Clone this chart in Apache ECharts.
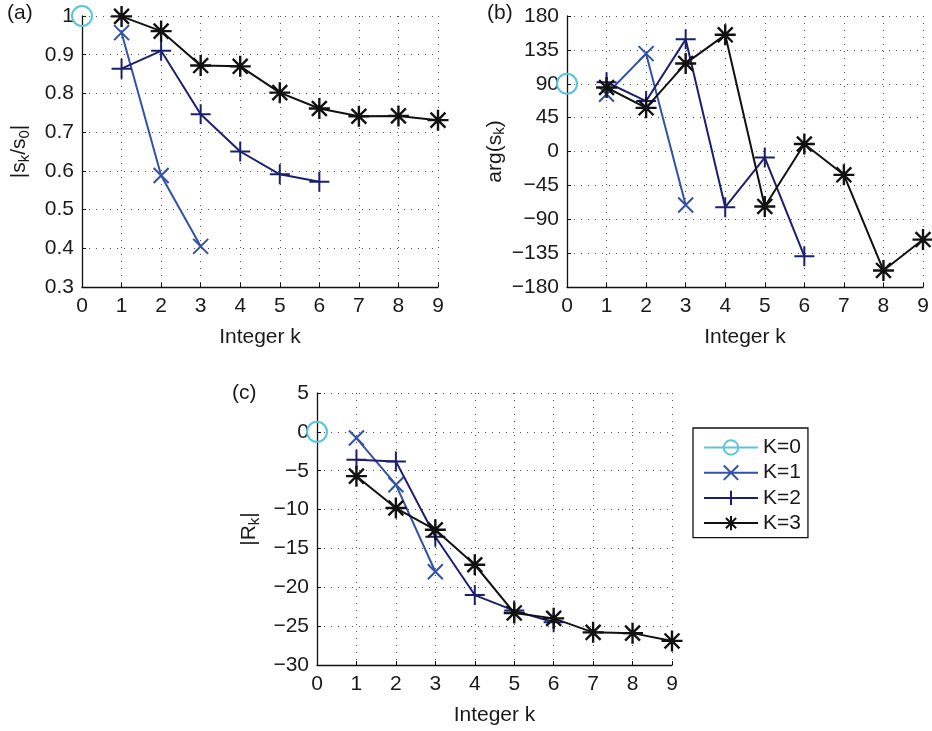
<!DOCTYPE html>
<html>
<head>
<meta charset="utf-8">
<script src="https://cdn.jsdelivr.net/npm/echarts@6/dist/echarts.min.js"></script>
<style>
  html, body { margin: 0; padding: 0; background: #fff; }
  #chart { width: 932px; height: 731px; }
</style>
</head>
<body>
<div id="chart"></div>
<script>
// Order index k used on every panel
const kValues = [0, 1, 2, 3, 4, 5, 6, 7, 8, 9];
const seriesNames = ['K=0', 'K=1', 'K=2', 'K=3'];

// (a) normalised magnitude |s_k / s_0|
const magK0 = [1.0];
const magK1 = [0.957, 0.588, 0.405];
const magK2 = [0.864, 0.910, 0.746, 0.650, 0.591, 0.572];
const magK3 = [0.999, 0.961, 0.872, 0.870, 0.802, 0.761, 0.741, 0.742, 0.731];

// (b) phase arg(s_k) in degrees
const argK0 = [90];
const argK1 = [76, 130, -71];
const argK2 = [92, 67, 149, -74, -8, -139];
const argK3 = [85, 58, 117, 155, -73, 10, -31, -158, -117];

// (c) |R_k| in dB
const resK0 = [0];
const resK1 = [-0.8, -6.8, -18.0];
const resK2 = [-3.6, -3.8, -13.5, -21.0, -23.0, -24.5];
const resK3 = [-5.7, -9.8, -12.6, -17.1, -23.3, -24.0, -25.8, -25.9, -26.9];

// Tick values for each y axis
const magTicks = [0.3, 0.4, 0.5, 0.6, 0.7, 0.8, 0.9, 1];
const argTicks = [-180, -135, -90, -45, 0, 45, 90, 135, 180];
const resTicks = [-30, -25, -20, -15, -10, -5, 0, 5];

const FONT = '"Liberation Sans", Arial, Helvetica, sans-serif';
const FS = 21;
const TEXT = '#1a1a1a';
const colors = ['#5cc6d8', '#3352a6', '#1c1f6e', '#111111'];
const symbols = [
  'circle',
  'path://M0,0L10,10M10,0L0,10',
  'path://M5,0L5,10M0,5L10,5',
  'path://M5,0L5,10M0,5L10,5M1.46,1.46L8.54,8.54M8.54,1.46L1.46,8.54'
];
const symbolSizes = [20, 15, 20, 21];

function toPoints(values, startK) {
  return values.map((v, i) => [kValues[startK + i], v]);
}

function minusSign(v) {
  return String(v).replace('-', '\u2212');
}

function xAxisFor(gridIndex) {
  return {
    gridIndex: gridIndex,
    type: 'value',
    min: 0, max: 9, interval: 1,
    name: 'Integer k',
    nameLocation: 'middle',
    nameGap: 40,
    nameTextStyle: { fontFamily: FONT, fontSize: FS, color: TEXT },
    axisLine: { show: true, onZero: false, lineStyle: { color: '#111', width: 1.3 } },
    axisTick: { show: true, inside: true, length: 4, lineStyle: { color: '#111' } },
    axisLabel: { fontFamily: FONT, fontSize: FS, color: TEXT, margin: 9 },
    splitLine: { show: true, lineStyle: { color: '#555', width: 1, type: [1, 6] } }
  };
}

function yAxisFor(gridIndex, ticks, name, nameGap) {
  return {
    gridIndex: gridIndex,
    type: 'value',
    min: ticks[0], max: ticks[ticks.length - 1],
    interval: ticks[1] - ticks[0],
    name: name,
    nameLocation: 'middle',
    nameRotate: 90,
    nameGap: nameGap,
    nameTextStyle: {
      fontFamily: FONT, fontSize: FS, color: TEXT,
      rich: {
        sub: { fontFamily: FONT, fontSize: 15, color: TEXT, padding: [10, 0, 0, 0] }
      }
    },
    axisLine: { show: true, onZero: false, lineStyle: { color: '#111', width: 1.3 } },
    axisTick: { show: true, inside: true, length: 4, lineStyle: { color: '#111' } },
    axisLabel: {
      fontFamily: FONT, fontSize: FS, color: TEXT, margin: 8,
      formatter: v => minusSign(Math.round(v * 100) / 100)
    },
    splitLine: { show: true, lineStyle: { color: '#555', width: 1, type: [1, 6] } }
  };
}

function panelSeries(axisIndex, groups) {
  return groups.map((vals, i) => ({
    name: seriesNames[i],
    type: 'line',
    xAxisIndex: axisIndex,
    yAxisIndex: axisIndex,
    data: toPoints(vals, i === 0 ? 0 : 1),
    symbol: symbols[i],
    symbolSize: symbolSizes[i],
    showAllSymbol: true,
    clip: false,
    animation: false,
    z: 2 + i,
    lineStyle: { color: colors[i], width: 2 },
    itemStyle: {
      color: i === 0 ? 'rgba(0,0,0,0)' : colors[i],
      borderColor: colors[i],
      borderWidth: i === 3 ? 2.4 : 2
    },
    emphasis: { disabled: true }
  }));
}

const chart = echarts.init(document.getElementById('chart'), null, { renderer: 'canvas' });

const panelLabel = (text, left, top) => ({
  type: 'text',
  left: left, top: top,
  style: { text: text, fontFamily: FONT, fontSize: FS, fill: TEXT }
});

chart.setOption({
  backgroundColor: '#ffffff',
  animation: false,
  textStyle: { fontFamily: FONT },
  grid: [
    { left: 82, top: 16, width: 356, height: 271, containLabel: false, outerBoundsMode: 'none' },
    { left: 567, top: 16, width: 356, height: 271, containLabel: false, outerBoundsMode: 'none' },
    { left: 317, top: 393, width: 355, height: 272, containLabel: false, outerBoundsMode: 'none' }
  ],
  xAxis: [xAxisFor(0), xAxisFor(1), xAxisFor(2)],
  yAxis: [
    yAxisFor(0, magTicks, '|s{sub|k}/s{sub|0}|', 50),
    yAxisFor(1, argTicks, 'arg(s{sub|k})', 50),
    yAxisFor(2, resTicks, '|R{sub|k}|', 55)
  ],
  legend: {
    orient: 'vertical',
    left: 693, top: 428,
    data: seriesNames,
    itemWidth: 54,
    itemHeight: 18,
    itemGap: 4.2,
    padding: [9, 7, 4, 10],
    borderColor: '#111',
    borderWidth: 1.3,
    borderRadius: 0,
    backgroundColor: '#fff',
    textStyle: { fontFamily: FONT, fontSize: FS, color: TEXT },
    selectedMode: true
  },
  graphic: [
    panelLabel('(a)', 7, 3),
    panelLabel('(b)', 487, 3),
    panelLabel('(c)', 232, 383)
  ],
  series: [
    ...panelSeries(0, [magK0, magK1, magK2, magK3]),
    ...panelSeries(1, [argK0, argK1, argK2, argK3]),
    ...panelSeries(2, [resK0, resK1, resK2, resK3])
  ]
});
</script>
</body>
</html>
